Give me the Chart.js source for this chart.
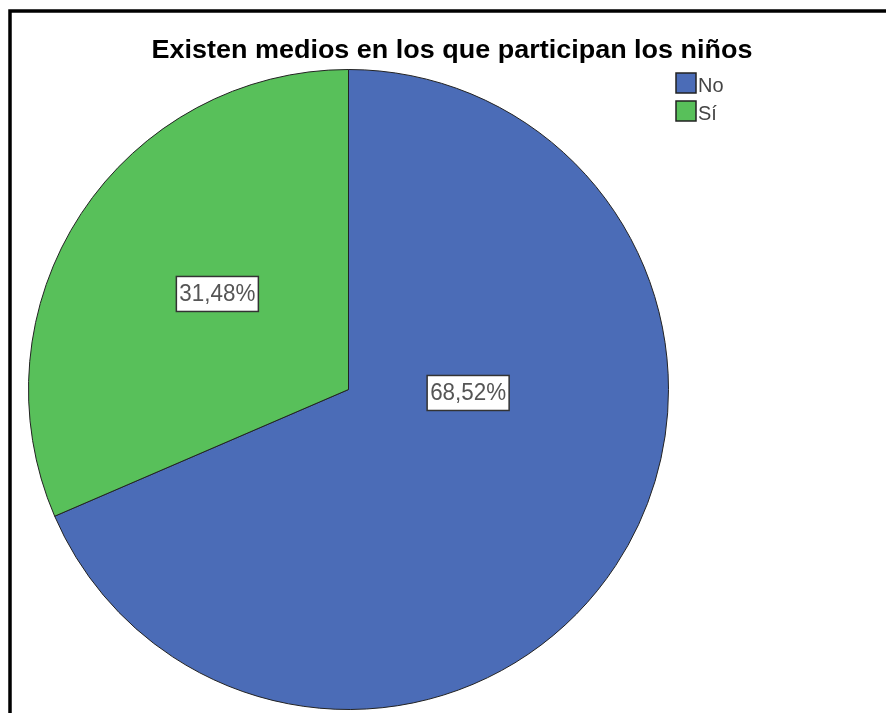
<!DOCTYPE html>
<html>
<head>
<meta charset="utf-8">
<script src="https://cdn.jsdelivr.net/npm/chart.js@4/dist/chart.umd.min.js"></script>
<style>
  html, body { margin: 0; padding: 0; background: #fff; }
  #wrap { width: 886px; height: 713px; position: relative; }
</style>
</head>
<body>
<div id="wrap"><canvas id="myChart"></canvas></div>
<script>
// data
const chartTitle = "Existen medios en los que participan los niños";
const categories = ["No", "Sí"];
const percentages = [68.52, 31.48];
const sliceColors = ["#4B6CB7", "#58C05A"];

// label spot per slice (angle in rad from 3 o'clock, radius fraction)
const labelSpots = [{ angle: 0.029, r: 0.374 }, { angle: -2.512, r: 0.507 }];

const fmt = (v) => v.toFixed(2).replace(".", ",") + "%";

// draw text squeezed/stretched horizontally, like the SPSS export
function wideText(ctx, txt, x, y, stretch) {
	ctx.save();
	ctx.translate(x, y);
	ctx.scale(stretch, 1);
	ctx.fillText(txt, 0, 0);
	ctx.restore();
}

const decorPlugin = {
	id: "decor",
	beforeDraw(chart) {
		const ctx = chart.ctx;
		ctx.save();
		ctx.strokeStyle = "#000";
		ctx.lineWidth = 3.5;
		ctx.beginPath();
		ctx.moveTo(10, 720);
		ctx.lineTo(10, 11);
		ctx.lineTo(900, 11);
		ctx.stroke();
		ctx.restore();
	},
	afterDraw(chart) {
		const ctx = chart.ctx;
		ctx.save();
		// title
		ctx.fillStyle = "#000";
		ctx.font = "bold 26px 'Liberation Sans', Arial, sans-serif";
		ctx.textAlign = "center";
		ctx.textBaseline = "alphabetic";
		const tw = ctx.measureText(chartTitle).width;
		wideText(ctx, chartTitle, 452, 58, 601 / tw);

		// legend
		const ds = chart.data.datasets[0];
		ctx.font = "21px 'Liberation Sans', Arial, sans-serif";
		ctx.textAlign = "left";
		chart.data.labels.forEach((lab, i) => {
			const y = 73 + i * 28;
			ctx.fillStyle = ds.backgroundColor[i];
			ctx.fillRect(676, y, 20, 20);
			ctx.strokeStyle = "#222";
			ctx.lineWidth = 1.5;
			ctx.strokeRect(676, y, 20, 20);
			ctx.fillStyle = "#444";
			wideText(ctx, lab, 698, y + 19, 0.95);
		});

		// value labels in white boxes
		const meta = chart.getDatasetMeta(0);
		ctx.font = "23px 'Liberation Sans', Arial, sans-serif";
		ctx.textAlign = "center";
		ctx.textBaseline = "middle";
		meta.data.forEach((arc, i) => {
			const p = arc.getProps(["x", "y", "outerRadius"], true);
			const spot = labelSpots[i];
			const cx = p.x + Math.cos(spot.angle) * p.outerRadius * spot.r;
			const cy = p.y + Math.sin(spot.angle) * p.outerRadius * spot.r;
			const txt = fmt(ds.data[i]);
			const w = 82;
			const h = 35;
			ctx.fillStyle = "#fff";
			ctx.fillRect(cx - w / 2, cy - h / 2, w, h);
			ctx.strokeStyle = "#333";
			ctx.lineWidth = 1.5;
			ctx.strokeRect(cx - w / 2, cy - h / 2, w, h);
			ctx.fillStyle = "#555";
			const sx = (w - 6) / ctx.measureText(txt).width;
			wideText(ctx, txt, cx, cy + 1, sx);
		});
		ctx.restore();
	}
};

new Chart(document.getElementById("myChart"), {
	type: "pie",
	data: {
		labels: categories,
		datasets: [
			{
				data: percentages,
				backgroundColor: sliceColors,
				borderColor: "#222",
				borderWidth: 1,
			},
		],
	},
	options: {
		responsive: true,
		maintainAspectRatio: false,
		animation: false,
		layout: {
			padding: { left: 28, right: 217, top: 69, bottom: 3 },
		},
		plugins: {
			legend: { display: false },
			title: { display: false },
			tooltip: { enabled: false },
		},
	},
	plugins: [decorPlugin],
});
</script>
</body>
</html>
